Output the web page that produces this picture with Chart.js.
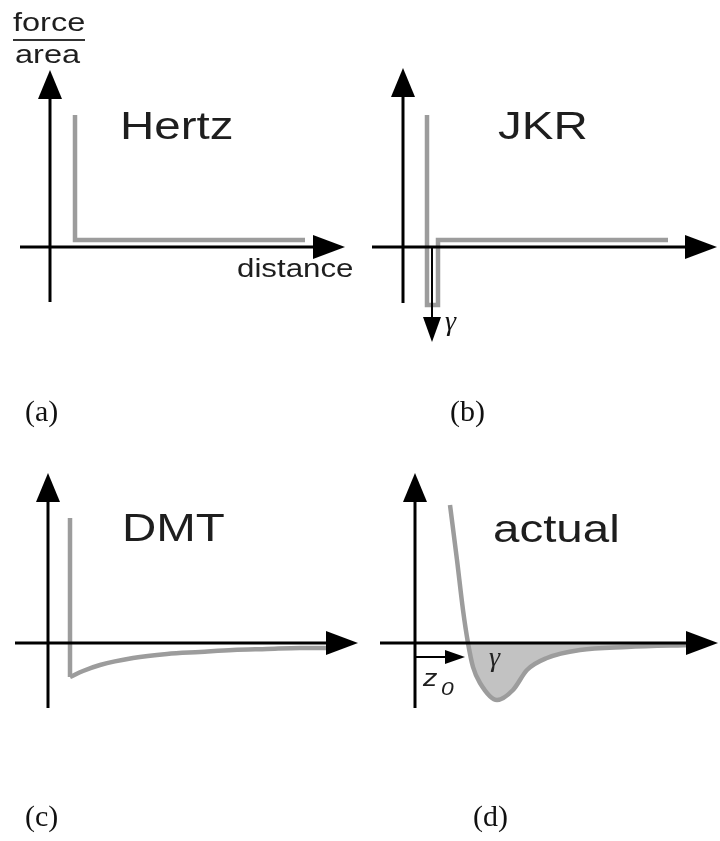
<!DOCTYPE html>
<html>
<head>
<meta charset="utf-8">
<script src="https://cdn.jsdelivr.net/npm/chart.js"></script>
<style>
  html, body { margin: 0; padding: 0; background: #fff; }
  #fig { position: relative; width: 720px; height: 841px; }
  #fig canvas { position: absolute; }
</style>
</head>
<body>
<div id="fig">
  <canvas id="pa" width="360" height="460" style="left:0;top:0"></canvas>
  <canvas id="pb" width="360" height="460" style="left:360px;top:0"></canvas>
  <canvas id="pc" width="360" height="381" style="left:0;top:460px"></canvas>
  <canvas id="pd" width="360" height="381" style="left:360px;top:460px"></canvas>
</div>
<script>
// force/area against distance, same units in all four panels (1 unit = 10 px)

// (a) Hertz: hard wall, no adhesion
var hertzX = [2.5, 2.5, 25.5];
var hertzY = [13.2, 0.7, 0.7];

// (b) JKR: wall plus a narrow adhesive well
var jkrX = [2.4, 2.4, 3.5, 3.5, 26.5];
var jkrY = [13.2, -5.8, -5.8, 0.7, 0.7];

// (c) DMT: wall plus a long-range attractive tail
var dmtWallX = [2.2, 2.2];
var dmtWallY = [12.5, -3.4];
var dmtTailX = [2.2, 3.5, 5.2, 8.5, 11.9, 15.2, 18.5, 21.9, 25.2, 28.5];
var dmtTailY = [-3.4, -2.8, -2.2, -1.5, -1.1, -0.9, -0.7, -0.6, -0.5, -0.5];

// (d) actual: smooth potential with a well of depth gamma past z0
var actualX = [3.5, 4.2, 4.8, 5.3, 5.8, 6.5, 8.2, 9.8, 11.2, 13.2, 16.5, 21.2, 27.8];
var actualY = [13.8, 8.3, 3.3, 0.0, -2.4, -4.0, -5.7, -4.7, -2.7, -1.5, -0.7, -0.4, -0.2];

var GRAY = '#9c9c9c';
var FILL = '#c2c2c2';
var INK = '#1e1e1e';
var SANS = '"Liberation Sans", Arial, sans-serif';
var SERIF = '"Liberation Serif", "Times New Roman", serif';

function pts(xs, ys) {
  return xs.map(function (x, i) { return { x: x, y: ys[i] }; });
}

function curve(xs, ys, extra) {
  var ds = {
    data: pts(xs, ys),
    borderColor: GRAY,
    borderWidth: 4.5,
    borderJoinStyle: 'miter',
    pointRadius: 0,
    fill: false,
    tension: 0
  };
  return Object.assign(ds, extra || {});
}

function arrowHead(ctx, x, y, dx, dy, len, half) {
  var bx = x - dx * len, by = y - dy * len;
  ctx.beginPath();
  ctx.moveTo(x, y);
  ctx.lineTo(bx - dy * half, by + dx * half);
  ctx.lineTo(bx + dy * half, by - dx * half);
  ctx.closePath();
  ctx.fill();
}

// axes with arrow tips, side arrows and labels, placed on the chart's own scales
var sketchPlugin = {
  id: 'sketch',
  afterDatasetsDraw: function (chart, args, o) {
    var ctx = chart.ctx, sx = chart.scales.x, sy = chart.scales.y;
    function P(p) { return [sx.getPixelForValue(p[0]), sy.getPixelForValue(p[1])]; }
    ctx.save();
    (o.lines || []).forEach(function (l) {
      var f = P(l.from), t = P(l.to);
      ctx.strokeStyle = l.color || '#000';
      ctx.lineWidth = l.width;
      ctx.beginPath();
      ctx.moveTo(f[0], f[1]);
      ctx.lineTo(t[0], t[1]);
      ctx.stroke();
    });
    (o.arrows || []).forEach(function (a) {
      var f = P(a.from), t = P(a.to);
      var dx = t[0] - f[0], dy = t[1] - f[1], L = Math.hypot(dx, dy);
      dx /= L; dy /= L;
      ctx.strokeStyle = '#000';
      ctx.fillStyle = '#000';
      ctx.lineWidth = a.width;
      ctx.beginPath();
      ctx.moveTo(f[0], f[1]);
      ctx.lineTo(t[0] - dx * a.head[0] * 0.6, t[1] - dy * a.head[0] * 0.6);
      ctx.stroke();
      arrowHead(ctx, t[0], t[1], dx, dy, a.head[0], a.head[1]);
    });
    (o.texts || []).forEach(function (t) {
      var p = P(t.at);
      ctx.save();
      ctx.font = t.font;
      ctx.fillStyle = t.color || INK;
      ctx.textAlign = 'left';
      ctx.textBaseline = 'alphabetic';
      ctx.translate(p[0], p[1]);
      ctx.scale(t.stretch || 1, 1);
      ctx.fillText(t.text, 0, 0);
      ctx.restore();
    });
    ctx.restore();
  }
};

function axes(x0, x1, y0, y1) {
  return [
    { from: [x0, 0], to: [x1, 0], width: 3, head: [32, 12] },
    { from: [0, y0], to: [0, y1], width: 3, head: [29, 12] }
  ];
}

function title(text, x, y) {
  return { text: text, at: [x, y], font: '38px ' + SANS, stretch: 1.25 };
}

function tag(text, x, y) {
  return { text: text, at: [x, y], font: '30px ' + SERIF, color: '#111' };
}

function panel(id, xr, yr, datasets, sketch) {
  return new Chart(document.getElementById(id), {
    type: 'line',
    data: { datasets: datasets },
    options: {
      responsive: false,
      animation: false,
      events: [],
      layout: { padding: 0 },
      plugins: { legend: { display: false }, tooltip: { enabled: false }, sketch: sketch },
      scales: {
        x: { type: 'linear', display: false, min: xr[0], max: xr[1] },
        y: { type: 'linear', display: false, min: yr[0], max: yr[1] }
      }
    },
    plugins: [sketchPlugin]
  });
}

panel('pa', [-5, 31], [-21.3, 24.7], [curve(hertzX, hertzY)], {
  arrows: axes(-3, 29.5, -5.5, 17.7),
  lines: [{ from: [-3.7, 20.7], to: [3.5, 20.7], width: 2, color: '#333' }],
  texts: [
    { text: 'force', at: [-3.7, 21.6], font: '26px ' + SANS, stretch: 1.25 },
    { text: 'area', at: [-3.5, 18.4], font: '26px ' + SANS, stretch: 1.25 },
    title('Hertz', 7.0, 10.8),
    { text: 'distance', at: [18.7, -3.0], font: '25px ' + SANS, stretch: 1.25 },
    tag('(a)', -2.5, -17.4)
  ]
});

panel('pb', [-4.3, 31.7], [-21.3, 24.7], [curve(jkrX, jkrY)], {
  arrows: axes(-3.1, 31.4, -5.6, 17.9).concat([
    { from: [2.9, 0], to: [2.9, -9.5], width: 2, head: [25, 9] }
  ]),
  texts: [
    title('JKR', 9.5, 10.8),
    { text: 'γ', at: [4.2, -8.3], font: 'italic 28px ' + SERIF, color: '#111' },
    tag('(b)', 4.7, -17.4)
  ]
});

panel('pc', [-4.8, 31.2], [-19.8, 18.3], [
  curve(dmtWallX, dmtWallY),
  curve(dmtTailX, dmtTailY, { cubicInterpolationMode: 'monotone' })
], {
  arrows: axes(-3.3, 31.0, -6.5, 17.0),
  texts: [
    title('DMT', 7.4, 10.2),
    tag('(c)', -2.3, -18.3)
  ]
});

panel('pd', [-5.5, 30.5], [-19.8, 18.3], [
  curve(actualX, actualY, {
    cubicInterpolationMode: 'monotone',
    fill: { target: 'origin', above: 'rgba(0,0,0,0)', below: FILL }
  })
], {
  arrows: axes(-3.5, 30.3, -6.5, 17.0).concat([
    { from: [0, -1.4], to: [5.0, -1.4], width: 2, head: [20, 7] }
  ]),
  texts: [
    title('actual', 7.8, 10.1),
    { text: 'γ', at: [7.4, -2.3], font: 'italic 28px ' + SERIF, color: '#222' },
    { text: 'z', at: [0.8, -4.3], font: 'italic 24px ' + SANS, stretch: 1.2 },
    { text: '0', at: [2.6, -5.2], font: 'italic 19px ' + SANS, stretch: 1.2 },
    tag('(d)', 5.8, -18.3)
  ]
});
</script>
</body>
</html>
